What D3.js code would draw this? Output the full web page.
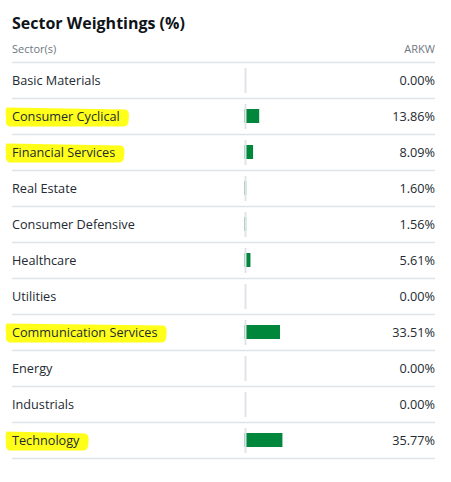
<!DOCTYPE html>
<html>
<head>
<meta charset="utf-8">
<script src="https://cdn.jsdelivr.net/npm/d3@7/dist/d3.min.js"></script>
<style>
  html, body { margin: 0; padding: 0; background: #fff; }
  svg { display: block; font-family: "Open Sans", "Noto Sans", sans-serif; }
</style>
</head>
<body>
<svg id="chart" width="451" height="482"></svg>
<script>
const title = "Sector Weightings (%)";
const headerLabel = "Sector(s)";
const seriesName = "ARKW";
const categories = ["Basic Materials", "Consumer Cyclical", "Financial Services", "Real Estate",
  "Consumer Defensive", "Healthcare", "Utilities", "Communication Services", "Energy",
  "Industrials", "Technology"];
const values = [0.00, 13.86, 8.09, 1.60, 1.56, 5.61, 0.00, 33.51, 0.00, 0.00, 35.77];
const highlighted = ["Consumer Cyclical", "Financial Services", "Communication Services", "Technology"];

const chartLeft = 12, chartRight = 435;
const tableTop = 62, rowH = 36;
const labelSize = 12.7;
const svg = d3.select("#chart");

const y = d3.scaleBand().domain(categories).range([tableTop, tableTop + rowH * categories.length]);
const barX0 = 244.5;
const x = d3.scaleLinear().domain([0, 100]).range([barX0, barX0 + 106]);

svg.append("text").attr("x", chartLeft).attr("y", 29)
  .attr("font-size", 16).attr("font-weight", 700).attr("fill", "#0f1419").text(title);
svg.append("text").attr("x", chartLeft).attr("y", 53)
  .attr("font-size", 11).attr("fill", "#6e7780").text(headerLabel);
svg.append("text").attr("x", chartRight).attr("y", 53).attr("text-anchor", "end")
  .attr("font-size", 11).attr("fill", "#6e7780").text(seriesName);

svg.append("line").attr("x1", chartLeft).attr("x2", chartRight).attr("y1", tableTop + 0.5).attr("y2", tableTop + 0.5)
  .attr("stroke", "#e0e4e9").attr("stroke-width", 1.5);

const rows = svg.selectAll("g.row").data(categories).join("g").attr("class", "row")
  .attr("transform", d => `translate(0,${y(d)})`);

rows.append("line").attr("x1", chartLeft).attr("x2", chartRight)
  .attr("y1", rowH + 0.5).attr("y2", rowH + 0.5)
  .attr("stroke", "#e0e4e9").attr("stroke-width", 1.5);

// highlighter strokes
rows.filter(d => highlighted.includes(d)).each(function(d) {
  const g = d3.select(this);
  const t = g.append("text").attr("x", chartLeft).attr("y", rowH / 2 + 4.5)
    .attr("font-size", labelSize).text(d).attr("visibility", "hidden");
  const w = t.node().getComputedTextLength();
  t.remove();
  const x0 = chartLeft - 6, x1 = chartLeft + w + 9;
  const cy = rowH / 2 + 0.5;
  const p = d3.path();
  p.moveTo(x0 + 1, cy - 9);
  p.lineTo(x1 - 3, cy - 7);
  p.quadraticCurveTo(x1 + 1, cy - 6, x1, cy + 2);
  p.quadraticCurveTo(x1, cy + 10, x1 - 5, cy + 10);
  p.lineTo(x0 + 3, cy + 10);
  p.quadraticCurveTo(x0 - 1, cy + 9, x0, cy + 1);
  p.quadraticCurveTo(x0 - 1, cy - 9, x0 + 1, cy - 9);
  p.closePath();
  g.append("path").attr("d", p.toString()).attr("fill", "#ffff1a");
});

rows.append("text").attr("x", chartLeft).attr("y", rowH / 2 + 4.5)
  .attr("font-size", labelSize).attr("fill", "#232a31").text(d => d);

rows.append("rect").attr("x", x(0)).attr("y", rowH / 2 - 7)
  .attr("width", (d, i) => x(values[i]) - x(0)).attr("height", 14)
  .attr("fill", "#00873c");

rows.append("line").attr("x1", 245.5).attr("x2", 245.5)
  .attr("y1", 6).attr("y2", rowH - 5)
  .attr("stroke", "#e0e4e9").attr("stroke-width", 2);

rows.append("text").attr("x", chartRight).attr("y", rowH / 2 + 4.5).attr("text-anchor", "end")
  .attr("font-size", labelSize).attr("fill", "#232a31").text((d, i) => values[i].toFixed(2) + "%");
</script>
</body>
</html>
